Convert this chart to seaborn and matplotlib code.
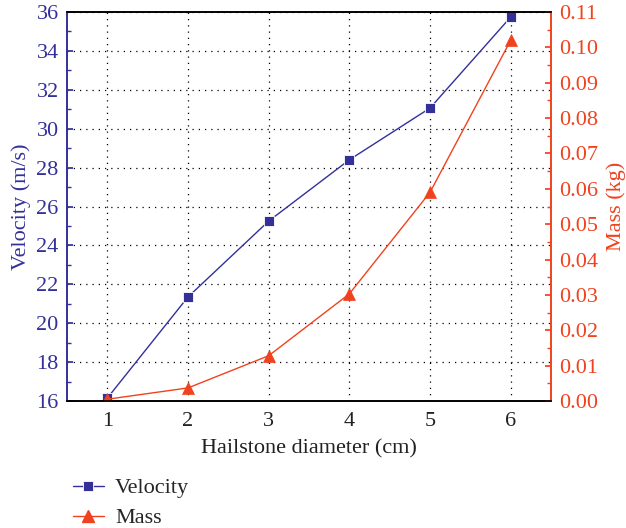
import matplotlib
matplotlib.use("Agg")
import matplotlib.pyplot as plt
from matplotlib.ticker import MultipleLocator
from matplotlib.lines import Line2D
import seaborn as sns
import pandas as pd

diameter = [1, 2, 3, 4, 5, 6]
velocity = [16.15, 21.35, 25.25, 28.4, 31.06, 35.74]
mass = [0.0005, 0.0037, 0.0128, 0.0303, 0.059, 0.102]

vel_color = "#33309a"
mass_color = "#f0421e"

sns.set_theme(style="white")
plt.rcParams['font.family'] = ['Liberation Serif', 'DejaVu Serif']

df = pd.DataFrame({"d": diameter, "v": velocity, "m": mass})

fig = plt.figure(figsize=(6.26, 5.28), dpi=100)
ax = fig.add_axes([67/626, 1-401/528, (551-67)/626, (401-12)/528])
ax2 = ax.twinx()

sns.lineplot(data=df, x="d", y="v", ax=ax, color=vel_color, marker="s", markersize=7,
             linewidth=1, markeredgecolor="white", markeredgewidth=0.6)
sns.lineplot(data=df, x="d", y="m", ax=ax2, color=mass_color, marker="^", markersize=9,
             linewidth=1, markeredgecolor=mass_color, markeredgewidth=0.5)

ax.set_xlim(0.5, 6.5)
ax.set_ylim(16, 36)
ax2.set_ylim(0, 0.11)
ax.set_xticks(diameter)
ax.set_yticks(range(16, 37, 2))
ax2.set_yticks([i/100 for i in range(12)])
ax2.set_yticklabels([f"{i/100:.2f}" for i in range(12)])
ax.xaxis.set_minor_locator(MultipleLocator(0.5))
ax.yaxis.set_minor_locator(MultipleLocator(1))
ax2.yaxis.set_minor_locator(MultipleLocator(0.005))

ax.grid(True, which="major", linestyle=(0, (1, 4)), color="black", linewidth=0.9)
ax2.grid(False)

fs = 16
ax.set_xlabel("Hailstone diameter (cm)", fontsize=fs, color="#222222", labelpad=6)
ax.set_ylabel("Velocity (m/s)", fontsize=fs, color=vel_color, labelpad=4)
ax2.set_ylabel("Mass (kg)", fontsize=fs, color=mass_color, labelpad=6)

ax.tick_params(axis="x", which="both", direction="in", colors="#222222", labelsize=fs, pad=8)
ax.tick_params(axis="x", which="major", length=4)
ax.tick_params(axis="x", which="minor", length=3)
ax.tick_params(axis="y", which="both", direction="in", colors=vel_color, labelsize=fs, pad=6)
ax.tick_params(axis="y", which="major", length=4)
ax.tick_params(axis="y", which="minor", length=3)
ax2.tick_params(axis="y", which="both", direction="in", colors=mass_color, labelsize=fs, pad=6)
ax2.tick_params(axis="y", which="major", length=4)
ax2.tick_params(axis="y", which="minor", length=3)

for a in (ax, ax2):
    a.spines["top"].set_color("black")
    a.spines["bottom"].set_color("black")
    a.spines["left"].set_color(vel_color)
    a.spines["right"].set_color(mass_color)
    for s in a.spines.values():
        s.set_linewidth(1.2)
    a.spines["top"].set_visible(True)
    a.spines["right"].set_visible(True)

if ax.get_legend():
    ax.get_legend().remove()
if ax2.get_legend():
    ax2.get_legend().remove()

handles = [
    Line2D([], [], color=vel_color, marker="s", markersize=7, linewidth=1,
           markeredgecolor="white", markeredgewidth=0.6),
    Line2D([], [], color=mass_color, marker="^", markersize=9, linewidth=1),
]
fig.legend(handles, ["Velocity", "Mass"], loc="upper left",
           bbox_to_anchor=(64/626, 1-469/528), frameon=False, fontsize=fs,
           handlelength=1.4, labelspacing=0.42, handletextpad=0.5, borderaxespad=0)

fig.savefig("out.png", dpi=100)
